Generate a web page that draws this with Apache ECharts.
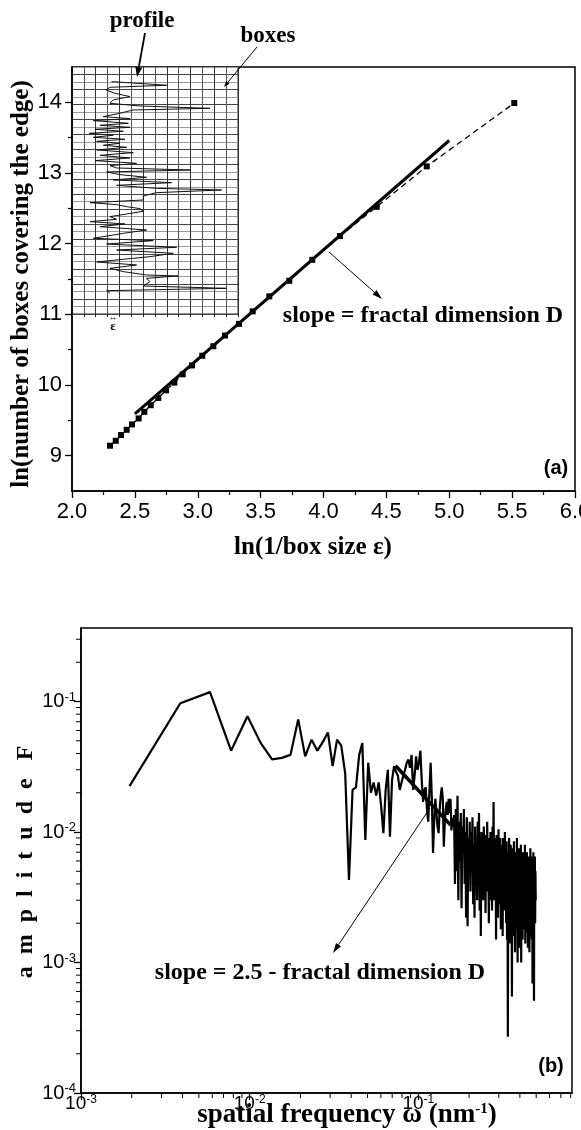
<!DOCTYPE html>
<html><head><meta charset="utf-8">
<script src="https://cdn.jsdelivr.net/npm/echarts@6.0.0/dist/echarts.min.js"></script>
<style>html,body{margin:0;padding:0;background:#fff}#c{width:581px;height:1130px}</style>
</head><body><div id="c"></div>
<script>
// ---------- panel (a): box counting ----------
const boxLnInv = [2.302,2.348,2.390,2.435,2.477,2.530,2.575,2.626,2.686,2.748,2.814,2.880,2.954,3.036,3.124,3.217,3.328,3.437,3.569,3.728,3.911,4.131,4.423,4.821,5.517];
const boxLnN   = [9.141,9.211,9.292,9.366,9.442,9.527,9.620,9.714,9.817,9.925,10.034,10.151,10.277,10.414,10.549,10.700,10.865,11.042,11.254,11.475,11.771,12.108,12.521,13.094,13.99];
const fitAX = [2.5, 5.0];
const fitAY = [9.59, 13.46];
const yTicksA = [9,10,11,12,13,14];
const yMinorA = [9.5,10.5,11.5,12.5,13.5];

// inset: profile inside the box grid (box units)
const profileS = [31.05,30.56,30.29,29.93,29.49,29.04,28.60,28.15,27.79,27.48,27.26,26.82,26.37,26.10,25.84,25.48,25.21,24.94,24.68,24.41,24.14,23.88,23.61,23.34,23.07,22.81,22.54,22.27,21.92,21.56,21.20,20.85,20.49,20.13,19.82,19.51,19.24,18.98,18.62,18.26,17.91,17.55,17.19,16.79,16.57,16.21,15.77,15.23,14.88,14.61,14.34,14.08,13.72,13.36,13.01,12.65,12.34,12.03,11.67,11.22,10.78,10.11,9.80,9.35,8.91,8.55,8.11,7.66,7.31,6.95,6.55,6.10,5.66,5.21,5.08,4.77,4.32,3.74,3.43,3.12,2.76];
const profileH = [3.34,7.98,3.20,2.87,3.62,4.89,3.48,3.20,5.73,11.63,5.17,4.04,2.64,4.89,1.80,4.75,2.36,4.89,1.94,4.33,1.46,3.48,1.80,4.47,2.08,4.04,2.64,4.61,2.08,5.17,2.36,4.89,1.94,5.45,3.20,3.76,10.0,2.92,4.04,6.29,3.48,8.40,3.76,7.13,12.61,7.13,6.01,6.01,1.52,3.76,4.61,5.73,6.01,4.61,3.20,3.76,1.52,4.47,2.36,6.29,4.33,1.80,6.85,2.92,8.82,3.76,8.54,6.57,4.33,2.08,5.45,3.20,4.33,6.29,8.96,6.29,6.57,6.01,13.03,2.92,3.20];

// ---------- panel (b): amplitude spectrum ----------
const binWidth = 0.00194; // spacing of the frequency bins (nm^-1)
const amplitude = [
 2.25e-2,9.7e-2,1.18e-1,4.2e-2,7.7e-2,4.8e-2,3.6e-2,3.7e-2,3.9e-2,7.3e-2,
 3.8e-2,5.1e-2,4.2e-2,4.9e-2,5.8e-2,3.2e-2,5.1e-2,4.6e-2,2.8e-2,4.3e-3,
 2.1e-2,2.2e-2,3.9e-2,4.8e-2,8.7e-3,3.4e-2,2.0e-2,2.4e-2,1.9e-2,2.4e-2,
 1.6e-2,9.8e-3,2.1e-2,3.0e-2,9.2e-3,2.5e-2,3.2e-2,2.9e-2,2.7e-2,2.1e-2,
 2.4e-2,2.7e-2,3.0e-2,3.4e-2,3.6e-2,3.1e-2,3.9e-2,2.1e-2,2.7e-2,3.8e-2,
 3.0e-2,3.4e-2,4.2e-2,2.5e-2,1.7e-2,2.1e-2,2.2e-2,1.5e-2,1.2e-2,2.1e-2,
 3.4e-2,1.8e-2,6.9e-3,1.2e-2,1.8e-2,1.4e-2,1.1e-2,9.8e-3,1.5e-2,1.9e-2,
 2.2e-2,1.8e-2,7.7e-3,1.2e-2,1.5e-2,1.7e-2,1.35e-2,1.8e-2,1.4e-2,1.8e-2,
 1.03e-2,1.28e-2,1.1e-2,1.35e-2,
 4.0e-3,1.5e-2,5.0e-3,1.9e-2,3.0e-3,1.2e-2,6.0e-3,1.4e-2,2.6e-3,1.1e-2,
 7.0e-3,1.5e-2,4.0e-3,1.0e-2,2.2e-3,1.3e-2,1.9e-3,9.0e-3,5.0e-3,1.2e-2,
 3.5e-3,1.0e-2,6.0e-3,1.3e-2,2.8e-3,8.0e-3,2.2e-3,1.1e-2,4.5e-3,9.0e-3,
 3.0e-3,1.2e-2,5.5e-3,1.4e-2,2.5e-3,8.5e-3,1.6e-3,1.0e-2,4.0e-3,7.5e-3,
 3.0e-3,1.1e-2,5.0e-3,9.5e-3,2.4e-3,8.0e-3,3.5e-3,1.2e-2,4.5e-3,7.0e-3,
 2.0e-3,9.0e-3,5.5e-3,1.0e-2,3.0e-3,8.0e-3,2.5e-3,1.1e-2,4.0e-3,1.7e-2,
 3.0e-3,9.0e-3,5.0e-3,7.0e-3,1.5e-3,9.5e-3,3.5e-3,8.0e-3,2.2e-3,1.05e-2,
 4.5e-3,7.5e-3,2.8e-3,9.0e-3,1.8e-3,8.0e-3,3.5e-3,6.5e-3,1.6e-3,9.0e-3,
 4.0e-3,7.0e-3,2.5e-3,1.0e-2,3.0e-3,6.0e-3,2.0e-3,8.5e-3,1.5e-3,7.0e-3,
 2.7e-4,6.5e-3,2.2e-3,9.0e-3,3.0e-3,5.5e-3,1.4e-3,8.0e-3,2.5e-3,6.0e-3,
 5.5e-4,7.5e-3,3.0e-3,5.0e-3,1.6e-3,8.5e-3,2.2e-3,6.0e-3,1.2e-3,7.0e-3,
 3.5e-3,5.5e-3,1.8e-3,9.0e-3,2.8e-3,1.0e-3,6.5e-3,2.0e-3,7.5e-3,3.0e-3,
 5.0e-3,1.3e-3,6.5e-3,2.2e-3,8.0e-3,1.0e-3,6.0e-3,2.6e-3,5.0e-3,1.5e-3,
 7.0e-3,3.0e-3,5.5e-3,1.8e-3,6.5e-3,2.4e-3,8.0e-3,1.4e-3,5.5e-3,3.0e-3,
 6.0e-3,1.7e-3,7.0e-3,2.5e-3,5.0e-3,1.3e-3,6.5e-3,2.8e-3,5.5e-3,1.9e-3,
 1.2e-3,6.0e-3,2.4e-3,7.5e-3,1.6e-3,5.0e-3,2.9e-3,6.5e-3,1.5e-3,5.5e-3,
 6.9e-4,6.0e-3,2.2e-3,7.0e-3,1.8e-3,5.1e-4,5.5e-3,2.6e-3,6.5e-3,2.0e-3,
 5.0e-3,3.0e-3
];
const fitBX = [0.0733, 0.1555];
const fitBY = [0.0322, 0.0113];
const logMinorX = [2e-3,3e-3,4e-3,5e-3,6e-3,7e-3,8e-3,9e-3,2e-2,3e-2,4e-2,5e-2,6e-2,7e-2,8e-2,9e-2,2e-1,3e-1,4e-1,5e-1,6e-1,7e-1,8e-1];
const logMinorY = [2e-4,3e-4,4e-4,5e-4,6e-4,7e-4,8e-4,9e-4,2e-3,3e-3,4e-3,5e-3,6e-3,7e-3,8e-3,9e-3,2e-2,3e-2,4e-2,5e-2,6e-2,7e-2,8e-2,9e-2,2e-1,3e-1];
const xMinB = 1e-3, xMaxB = 0.815, yMinB = 1e-4, yMaxB = 0.366;

// ---------- build ----------
const SANS = '"Liberation Sans", Arial, sans-serif';
const SERIF = '"Liberation Serif", "Times New Roman", serif';
const K = '#000';

function pow10Label(v){
  const l = Math.log10(v), e = Math.round(l);
  if (Math.abs(l - e) > 1e-6) return '';
  return '{b|10}{s|' + e + '}';
}
const powRichY = {
  b:{fontSize:20, fontFamily:SANS, color:K, lineHeight:22},
  s:{fontSize:13, fontFamily:SANS, color:K, lineHeight:12, verticalAlign:'top'}
};
const powRichX = {
  b:{fontSize:19, fontFamily:SANS, color:K, lineHeight:19},
  s:{fontSize:12, fontFamily:SANS, color:K, lineHeight:11, verticalAlign:'top'}
};

function arrow(x1,y1,x2,y2,w,hl,hw){
  const a = Math.atan2(y2-y1, x2-x1);
  const bx = x2 - hl*Math.cos(a), by = y2 - hl*Math.sin(a);
  const px = -Math.sin(a)*hw/2, py = Math.cos(a)*hw/2;
  return [
    {type:'line', shape:{x1:x1,y1:y1,x2:bx,y2:by}, style:{stroke:K, lineWidth:w}, z:100},
    {type:'polygon', shape:{points:[[x2,y2],[bx+px,by+py],[bx-px,by-py]]}, style:{fill:K}, z:100}
  ];
}
function txt(x,y,text,font,extra){
  return Object.assign({type:'text', x:x, y:y, z:100,
    style:{text:text, font:font, fill:K, align:'center', verticalAlign:'middle', textAlign:'center', textVerticalAlign:'middle'}}, extra||{});
}

const dataA = boxLnInv.map((x,i)=>[x, boxLnN[i]]);
const fitA = fitAX.map((x,i)=>[x, fitAY[i]]);
const profile = profileS.map((s,i)=>[profileH[i], s]);
const spectrum = amplitude.map((a,i)=>[(i+1)*binWidth, a]);
const fitB = fitBX.map((x,i)=>[x, fitBY[i]]);

const chart = echarts.init(document.getElementById('c'), null, {renderer:'canvas'});

const graphics = [].concat(
  [txt(22, 284, 'ln(number of boxes covering the edge)', 'bold 25px ' + SERIF, {rotation:Math.PI/2})],
  [txt(313, 548, 'ln(1/box size ε)', 'bold 25px ' + SERIF)],
  [txt(142, 21, 'profile', 'bold 23px ' + SERIF)],
  arrow(145, 33, 137, 77, 1.8, 10, 7),
  [txt(268, 36, 'boxes', 'bold 23px ' + SERIF)],
  arrow(257, 47, 224, 87, 1, 6, 4),
  [txt(113, 327, 'ε', 'bold 13px ' + SERIF)],
  [txt(113, 318, '↔', '9px ' + SANS)],
  [txt(423, 316, 'slope = fractal dimension D', 'bold 24px ' + SERIF)],
  arrow(329, 252, 382, 299, 1, 10, 6),
  [txt(556, 468, '(a)', 'bold 20px ' + SANS)],
  [txt(26, 862, 'a  m  p  l  i  t  u  d  e   F', 'bold 24px ' + SERIF, {rotation:Math.PI/2})],
  [{type:'text', x:347, y:1115, z:100, style:{
      text:'{t|spatial frequency ω (nm}{s|-1}{t|)}', align:'center', verticalAlign:'middle', textAlign:'center', textVerticalAlign:'middle',
      rich:{t:{font:'bold 27px ' + SERIF, fill:K, color:K, lineHeight:27}, s:{font:'bold 15px ' + SERIF, fill:K, color:K, lineHeight:14, verticalAlign:'top'}}}}],
  [txt(320, 973, 'slope = 2.5 - fractal dimension D', 'bold 24px ' + SERIF)],
  arrow(430, 808, 333, 953, 1, 10, 6),
  [txt(551, 1066, '(b)', 'bold 20px ' + SANS)]
);

function tickRender(dir){
  return function(params, api){
    const p = api.coord([api.value(0), api.value(1)]);
    if (dir === 'x') return {type:'line', shape:{x1:p[0], y1:p[1], x2:p[0], y2:p[1]+5}, style:{stroke:K, lineWidth:1}};
    return {type:'line', shape:{x1:p[0], y1:p[1], x2:p[0]-5, y2:p[1]}, style:{stroke:K, lineWidth:1}};
  };
}

chart.setOption({
  animation:false,
  backgroundColor:'#fff',
  grid:[
    {left:72, top:67, width:503, height:424, show:true, borderColor:K, borderWidth:1.5, backgroundColor:'transparent', containLabel:false, outerBoundsMode:'none'},
    {left:72, top:67, width:166, height:247, show:true, borderColor:'#222', borderWidth:1, backgroundColor:'transparent', containLabel:false, outerBoundsMode:'none'},
    {left:81, top:628, width:491, height:465, show:true, borderColor:K, borderWidth:1.5, backgroundColor:'transparent', containLabel:false, outerBoundsMode:'none'}
  ],
  xAxis:[
    {gridIndex:0, type:'value', min:2, max:6, interval:0.5,
     axisLine:{lineStyle:{color:K, width:1.5}}, axisTick:{length:7, lineStyle:{color:K, width:1.3}},
     minorTick:{show:true, splitNumber:2, length:4, lineStyle:{color:K, width:1.2}},
     axisLabel:{color:K, fontSize:22, fontFamily:SANS, margin:10, formatter:v=>v.toFixed(1)}, splitLine:{show:false}},
    {gridIndex:1, type:'value', min:0, max:14, interval:1,
     axisLine:{show:false}, axisTick:{show:true, length:3, lineStyle:{color:'#222', width:1}}, axisLabel:{show:false},
     splitLine:{show:true, lineStyle:{color:['#333','#555'], width:1}}},
    {gridIndex:2, type:'log', logBase:10, min:xMinB, max:xMaxB,
     axisLine:{lineStyle:{color:K, width:1.5}}, axisTick:{length:7, lineStyle:{color:K, width:1.3}},
     axisLabel:{color:K, margin:1, formatter:pow10Label, rich:powRichX, showMaxLabel:false}, splitLine:{show:false}, minorTick:{show:false}}
  ],
  yAxis:[
    {gridIndex:0, type:'value', min:8.5, max:14.5,
     axisLine:{lineStyle:{color:K, width:1.5}}, axisTick:{length:7, customValues:yTicksA, lineStyle:{color:K, width:1.3}},
     axisLabel:{color:K, fontSize:22, fontFamily:SANS, margin:10, customValues:yTicksA}, splitLine:{show:false}},
    {gridIndex:0, type:'value', min:8.5, max:14.5, position:'left',
     axisLine:{show:false}, axisTick:{length:4, customValues:yMinorA, lineStyle:{color:K, width:1.2}},
     axisLabel:{show:false}, splitLine:{show:false}},
    {gridIndex:1, type:'value', min:0, max:33, interval:1,
     axisLine:{show:false}, axisTick:{show:false}, axisLabel:{show:false},
     splitLine:{show:true, lineStyle:{color:['#444','#999'], width:1}}},
    {gridIndex:2, type:'log', logBase:10, min:yMinB, max:yMaxB,
     axisLine:{lineStyle:{color:K, width:1.5}}, axisTick:{length:7, lineStyle:{color:K, width:1.3}},
     axisLabel:{color:K, margin:5, formatter:pow10Label, rich:powRichY, showMaxLabel:false}, splitLine:{show:false}, minorTick:{show:false}}
  ],
  series:[
    {type:'line', xAxisIndex:1, yAxisIndex:2, data:profile, symbol:'none', lineStyle:{color:'#111', width:1}, z:3},
    {type:'line', xAxisIndex:0, yAxisIndex:0, data:dataA, symbol:'rect', symbolSize:6, itemStyle:{color:K},
     lineStyle:{color:K, width:1.3, type:[6,4]}, z:4},
    {type:'line', xAxisIndex:0, yAxisIndex:0, data:fitA, symbol:'none', lineStyle:{color:K, width:3}, z:5},
    {type:'line', xAxisIndex:2, yAxisIndex:3, data:spectrum, symbol:'none', lineStyle:{color:K, width:2.2}, z:4},
    {type:'line', xAxisIndex:2, yAxisIndex:3, data:fitB, symbol:'none', lineStyle:{color:K, width:3.5}, z:5},
    {type:'custom', xAxisIndex:2, yAxisIndex:3, data:logMinorX.map(v=>[v, yMinB]), renderItem:tickRender('x'), clip:false, silent:true},
    {type:'custom', xAxisIndex:2, yAxisIndex:3, data:logMinorY.map(v=>[xMinB, v]), renderItem:tickRender('y'), clip:false, silent:true}
  ],
  graphic:graphics
});
</script></body></html>
